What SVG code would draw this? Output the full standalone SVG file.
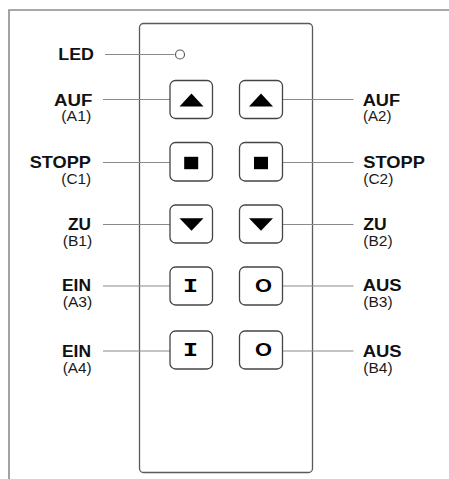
<svg xmlns="http://www.w3.org/2000/svg" width="449" height="479" viewBox="0 0 449 479">
<style>
.frame{fill:none;stroke:#8c8c8c;stroke-width:1.6}
.remote{fill:#fff;stroke:#5a5a5a;stroke-width:1.3}
.btn{fill:#fff;stroke:#444;stroke-width:1.3}
.sym{fill:#000}
.conn line{stroke:#8a8a8a;stroke-width:1.1}
.t1{font-family:"Liberation Sans",Arial,sans-serif;font-weight:bold;font-size:16.3px;fill:#111}
.t2{font-family:"Liberation Sans",Arial,sans-serif;font-size:13.8px;fill:#1a1a1a}
.L{text-anchor:end}
.R{text-anchor:start}
.gI{font-family:"Liberation Mono","Courier New",monospace;font-weight:bold;font-size:21px;fill:#000;text-anchor:middle}
.gO{font-family:"Liberation Sans",Arial,sans-serif;font-weight:bold;font-size:17.5px;fill:#000;text-anchor:middle}
</style>
<rect width="449" height="479" fill="#fff"/>
<path class="frame" d="M9,479 V10 H449"/>
<g id="remote">
<rect class="remote" x="139.5" y="23.5" width="173" height="449" rx="4"/>
</g>
<g class="conn" id="connectors">
<line x1="105" y1="54.5" x2="174.5" y2="54.5"/>
<line x1="103" y1="99.5" x2="181" y2="99.5"/>
<line x1="277" y1="99.5" x2="353.5" y2="99.5"/>
<line x1="103" y1="162.5" x2="183" y2="162.5"/>
<line x1="277" y1="162.5" x2="353.5" y2="162.5"/>
<line x1="103" y1="224.5" x2="181" y2="224.5"/>
<line x1="277" y1="224.5" x2="353.5" y2="224.5"/>
<line x1="103" y1="286" x2="181.5" y2="286"/>
<line x1="277" y1="286" x2="353.5" y2="286"/>
<line x1="103" y1="351" x2="181.5" y2="351"/>
<line x1="277" y1="351" x2="353.5" y2="351"/>
</g>
<g id="led">
<circle cx="180" cy="54.5" r="4.5" fill="#fff" stroke="#555" stroke-width="1.1"/>
<text class="t1 L" x="94" y="60.3" textLength="35.7" lengthAdjust="spacingAndGlyphs">LED</text>
</g>
<g id="auf-a1">
<rect class="btn" x="170" y="80.5" width="42.5" height="38" rx="5.5"/>
<polygon class="sym" points="179.5,106.5 203.5,106.5 191.5,93.5"/>
<text class="t1 L" x="92.3" y="105.5" textLength="38.3" lengthAdjust="spacingAndGlyphs">AUF</text>
<text class="t2 L" x="91.3" y="121" textLength="30" lengthAdjust="spacingAndGlyphs">(A1)</text>
</g>
<g id="auf-a2">
<rect class="btn" x="239.5" y="80.5" width="43" height="38" rx="5.5"/>
<polygon class="sym" points="249,106.5 273,106.5 261,93.5"/>
<text class="t1 R" x="362.7" y="105.5" textLength="37.5" lengthAdjust="spacingAndGlyphs">AUF</text>
<text class="t2 R" x="363" y="121" textLength="28.5" lengthAdjust="spacingAndGlyphs">(A2)</text>
</g>
<g id="stopp-c1">
<rect class="btn" x="170" y="142.5" width="42.5" height="38.5" rx="5.5"/>
<rect class="sym" x="184.2" y="156.8" width="14" height="12.4"/>
<text class="t1 L" x="91" y="168.3" textLength="61.3" lengthAdjust="spacingAndGlyphs">STOPP</text>
<text class="t2 L" x="91" y="184.3" textLength="29.7" lengthAdjust="spacingAndGlyphs">(C1)</text>
</g>
<g id="stopp-c2">
<rect class="btn" x="239.5" y="142.5" width="43" height="38.5" rx="5.5"/>
<rect class="sym" x="254" y="156.8" width="14" height="12.4"/>
<text class="t1 R" x="363.3" y="168.3" textLength="61.7" lengthAdjust="spacingAndGlyphs">STOPP</text>
<text class="t2 R" x="363.3" y="184.3" textLength="30" lengthAdjust="spacingAndGlyphs">(C2)</text>
</g>
<g id="zu-b1">
<rect class="btn" x="170" y="205" width="42.5" height="38" rx="5.5"/>
<polygon class="sym" points="179.5,218.3 203.5,218.3 191.5,230.7"/>
<text class="t1 L" x="91" y="230.4" textLength="23" lengthAdjust="spacingAndGlyphs">ZU</text>
<text class="t2 L" x="92.3" y="246.2" textLength="29.6" lengthAdjust="spacingAndGlyphs">(B1)</text>
</g>
<g id="zu-b2">
<rect class="btn" x="239.5" y="205" width="43" height="38" rx="5.5"/>
<polygon class="sym" points="249,218.3 273,218.3 261,230.7"/>
<text class="t1 R" x="363.3" y="230.4" textLength="23.4" lengthAdjust="spacingAndGlyphs">ZU</text>
<text class="t2 R" x="363.3" y="246.2" textLength="29.3" lengthAdjust="spacingAndGlyphs">(B2)</text>
</g>
<g id="ein-a3">
<rect class="btn" x="170" y="267" width="42.5" height="38" rx="5.5"/>
<text class="gI" x="190.5" y="291.7" textLength="15" lengthAdjust="spacingAndGlyphs">I</text>
<text class="t1 L" x="91" y="291.4" textLength="29" lengthAdjust="spacingAndGlyphs">EIN</text>
<text class="t2 L" x="92.3" y="307.2" textLength="29.6" lengthAdjust="spacingAndGlyphs">(A3)</text>
</g>
<g id="aus-b3">
<rect class="btn" x="239.5" y="267" width="43" height="38" rx="5.5"/>
<text class="gO" x="263.5" y="291.7" textLength="17" lengthAdjust="spacingAndGlyphs">O</text>
<text class="t1 R" x="362.7" y="291.4" textLength="39" lengthAdjust="spacingAndGlyphs">AUS</text>
<text class="t2 R" x="363.3" y="307.2" textLength="29.3" lengthAdjust="spacingAndGlyphs">(B3)</text>
</g>
<g id="ein-a4">
<rect class="btn" x="170" y="331" width="42.5" height="38" rx="5.5"/>
<text class="gI" x="190.5" y="356" textLength="15" lengthAdjust="spacingAndGlyphs">I</text>
<text class="t1 L" x="91" y="357.3" textLength="29" lengthAdjust="spacingAndGlyphs">EIN</text>
<text class="t2 L" x="91.7" y="373.2" textLength="29" lengthAdjust="spacingAndGlyphs">(A4)</text>
</g>
<g id="aus-b4">
<rect class="btn" x="239.5" y="331" width="43" height="38" rx="5.5"/>
<text class="gO" x="263.5" y="356" textLength="17" lengthAdjust="spacingAndGlyphs">O</text>
<text class="t1 R" x="362.7" y="357.3" textLength="39" lengthAdjust="spacingAndGlyphs">AUS</text>
<text class="t2 R" x="363.3" y="373.2" textLength="29.3" lengthAdjust="spacingAndGlyphs">(B4)</text>
</g>
</svg>
